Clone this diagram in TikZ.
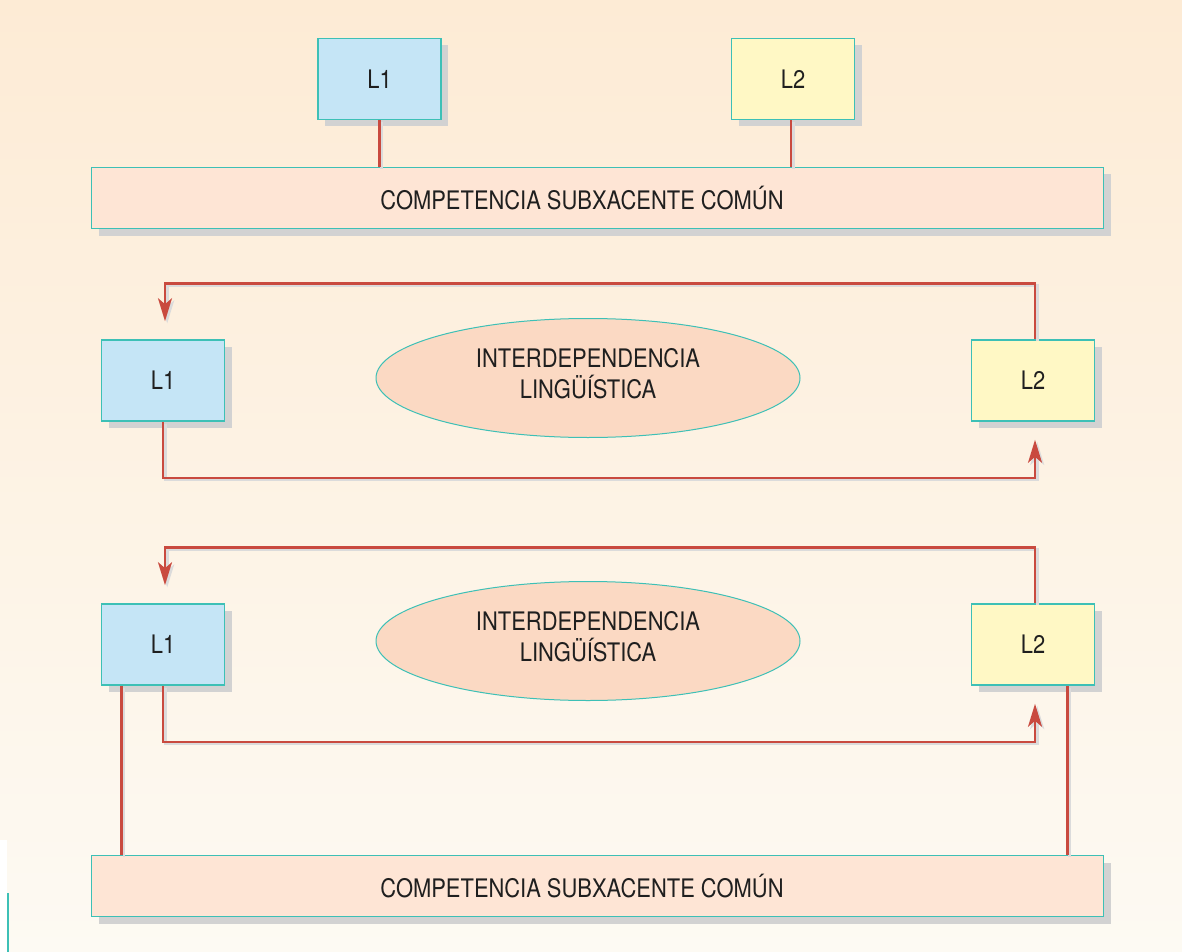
\documentclass[tikz,border=0pt]{standalone}
\usepackage{fontspec}
\setmainfont{TeX Gyre Heros}[FakeStretch=0.86]
\usetikzlibrary{arrows.meta,shadows,shapes.geometric}
\definecolor{bgtop}{HTML}{FDEBD5}
\definecolor{bgbot}{HTML}{FDFAF3}
\definecolor{cyanb}{HTML}{3DC0B6}
\definecolor{blueb}{HTML}{C5E5F6}
\definecolor{yelb}{HTML}{FFF8C5}
\definecolor{peachb}{HTML}{FEE5D5}
\definecolor{ellb}{HTML}{FBD9C3}
\definecolor{redl}{HTML}{C94A3F}
\definecolor{shd}{HTML}{D2D2D2}
\tikzset{
  boxbase/.style={draw=cyanb, line width=1.6pt, inner sep=0pt, text=black!88,
    font=\fontsize{25.5}{30}\selectfont,
    drop shadow={shadow xshift=7pt, shadow yshift=-7pt, fill=shd, opacity=1}},
  lbox/.style={boxbase, fill=blueb, minimum width=123pt, minimum height=81pt},
  ybox/.style={boxbase, fill=yelb, minimum width=123pt, minimum height=81pt},
  wide/.style={boxbase, fill=peachb, minimum width=1012pt, minimum height=61pt},
  oval/.style={ellipse, draw=cyanb, line width=1pt, fill=ellb, inner sep=0pt,
    minimum width=424pt, minimum height=119pt},
  ovaltext/.style={align=center, text=black!88, inner sep=0pt,
    font=\fontsize{25.5}{31}\selectfont},
  conn/.style={draw=redl, line width=2.6pt},
  connshadow/.style={draw=black!14, line width=2.6pt, transform canvas={shift={(2.2pt,-2.2pt)}}},
  tip/.style={-{Stealth[length=23pt, width=14pt, inset=6pt]}, shorten >=18pt}
}
\newcommand{\redpath}[2][]{\draw[connshadow,#1] #2; \draw[conn,#1] #2;}
\begin{document}
\begin{tikzpicture}[x=1pt,y=-1pt]
\useasboundingbox (0,0) rectangle (1182,952);
\shade[top color=bgtop, bottom color=bgbot] (0,0) rectangle (1182,952);
\fill[white] (0,840) rectangle (7,952);
\draw[cyanb, line width=1.5pt] (7.8,893) -- (7.8,952);

% top section
\node[lbox] (L1a) at (379.5,79) {L1};
\node[ybox] (L2a) at (793,79) {L2};
\node[wide] (C1) at (597.5,198) {\hspace*{-31pt}COMPETENCIA SUBXACENTE COMÚN};
\redpath{(L1a.south) -- (L1a.south |- C1.north)}
\redpath{([xshift=-2pt]L2a.south) -- ([xshift=-2pt]L2a.south |- C1.north)}

% middle section
\node[lbox] (L1m) at (163,380.5) {L1};
\node[ybox] (L2m) at (1033,380.5) {L2};
\node[oval] (E1) at (588,378) {};
\node[ovaltext] (T1) at ([yshift=4pt]E1.center) {INTERDEPENDENCIA\\LINGÜÍSTICA};
\redpath[tip]{([xshift=2pt]L2m.north) -- ++(0,-56) -| ([xshift=2pt]L1m.north)}
\redpath[tip]{(L1m.south) -- ++(0,56) -| ([xshift=2pt]L2m.south)}

% bottom section
\node[lbox] (L1b) at (163,644.5) {L1};
\node[ybox] (L2b) at (1033,644.5) {L2};
\node[oval] (E2) at (588,641) {};
\node[ovaltext] (T2) at ([yshift=4pt]E2.center) {INTERDEPENDENCIA\\LINGÜÍSTICA};
\node[wide] (C2) at (597.5,886) {\hspace*{-31pt}COMPETENCIA SUBXACENTE COMÚN};
\redpath[tip]{([xshift=2pt]L2b.north) -- ++(0,-56) -| ([xshift=2pt]L1b.north)}
\redpath[tip]{(L1b.south) -- ++(0,56) -| ([xshift=2pt]L2b.south)}
\redpath{([xshift=21pt]L1b.south west) -- ([xshift=21pt]L1b.south west |- C2.north)}
\redpath{([xshift=-28pt]L2b.south east) -- ([xshift=-28pt]L2b.south east |- C2.north)}
\end{tikzpicture}
\end{document}
